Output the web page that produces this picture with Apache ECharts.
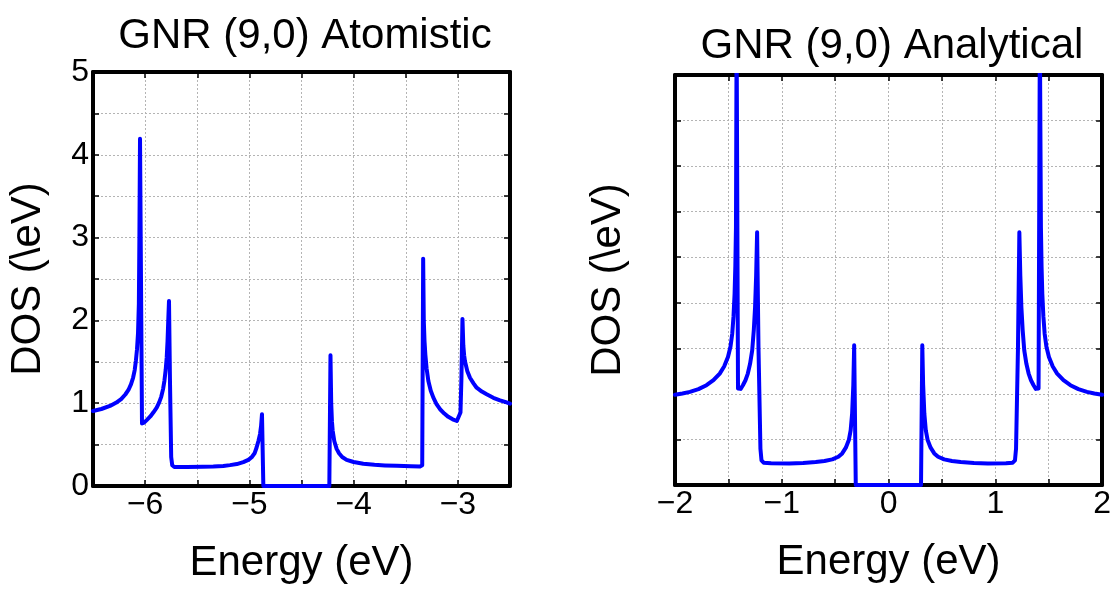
<!DOCTYPE html>
<html>
<head>
<meta charset="utf-8">
<script src="https://cdn.jsdelivr.net/npm/echarts@6/dist/echarts.min.js"></script>
<style>
html,body{margin:0;padding:0;background:#fff;}
#c{width:1114px;height:589px;}
</style>
</head>
<body>
<div id="c"></div>
<script>
// ---- data ----
var titles = ['GNR (9,0) Atomistic', 'GNR (9,0) Analytical'];
var xName = 'Energy (eV)';
var yName = 'DOS (\\eV)';

var atomE = [-6.500,-6.420,-6.337,-6.280,-6.230,-6.190,-6.160,-6.135,-6.115,-6.100,-6.088,-6.078,-6.068,-6.060,-6.055,-6.049,
  -6.030,-6.010,-5.985,-5.950,-5.920,-5.889,-5.865,-5.845,-5.828,-5.815,-5.803,-5.793,-5.785,-5.778,-5.771,
  -5.762,-5.750,-5.740,-5.720,-5.600,-5.450,-5.346,-5.250,-5.186,-5.120,-5.058,-5.010,-4.978,-4.950,-4.930,-4.912,-4.898,-4.888,-4.879,
  -4.866,-4.233,-4.222,-4.215,-4.208,-4.201,-4.185,-4.163,-4.140,-4.110,-4.067,-4.000,-3.907,-3.800,-3.700,-3.587,-3.450,-3.363,-3.342,
  -3.333,-3.327,-3.320,-3.312,-3.300,-3.283,-3.260,-3.235,-3.205,-3.171,-3.130,-3.092,-3.050,-3.010,-2.996,-2.975,-2.966,-2.956,
  -2.948,-2.940,-2.932,-2.910,-2.884,-2.850,-2.820,-2.770,-2.724,-2.660,-2.596,-2.540,-2.500];
var atomDOS = [0.905,0.930,0.967,1.005,1.050,1.105,1.160,1.230,1.310,1.400,1.520,1.650,1.850,2.200,3.000,4.193,
  0.755,0.765,0.795,0.840,0.890,0.947,1.010,1.080,1.170,1.270,1.400,1.550,1.750,2.000,2.234,
  1.300,0.350,0.250,0.230,0.230,0.233,0.236,0.242,0.252,0.265,0.288,0.315,0.348,0.395,0.468,0.550,0.627,0.720,0.867,
  0.000,0.000,1.579,1.000,0.780,0.667,0.540,0.448,0.395,0.350,0.316,0.290,0.268,0.256,0.249,0.244,0.239,0.236,0.250,
  2.746,2.000,1.750,1.587,1.420,1.267,1.150,1.067,0.990,0.927,0.875,0.835,0.805,0.785,0.779,0.887,1.300,2.018,
  1.700,1.580,1.507,1.390,1.307,1.240,1.187,1.140,1.107,1.065,1.035,1.012,0.995];

var analE = [-2.000,-1.930,-1.860,-1.780,-1.705,-1.640,-1.581,-1.540,-1.504,-1.480,-1.464,-1.452,-1.442,-1.435,-1.429,-1.423,
  -1.410,-1.398,-1.385,-1.364,-1.340,-1.318,-1.297,-1.277,-1.262,-1.250,-1.240,-1.231,
  -1.218,-1.200,-1.190,-1.170,-1.100,-0.930,-0.800,-0.682,-0.600,-0.527,-0.470,-0.434,-0.400,-0.372,-0.355,-0.341,-0.330,-0.322,
  -0.307,0.304,
  0.316,0.324,0.335,0.349,0.366,0.394,0.428,0.464,0.521,0.594,0.676,0.800,0.930,1.100,1.163,1.184,1.194,1.212,
  1.225,1.234,1.244,1.256,1.271,1.291,1.312,1.334,1.358,1.379,1.395,1.405,
  1.417,1.427,1.433,1.440,1.450,1.462,1.478,1.502,1.538,1.579,1.638,1.703,1.778,1.858,1.928,2.000];
var analDOS = [0.990,1.005,1.022,1.052,1.095,1.150,1.223,1.300,1.405,1.520,1.661,1.850,2.099,2.400,2.829,5.000,
  1.060,1.040,1.055,1.095,1.150,1.223,1.330,1.478,1.700,1.953,2.300,2.774,
  1.500,0.400,0.270,0.245,0.240,0.237,0.242,0.252,0.263,0.281,0.310,0.347,0.410,0.493,0.600,0.785,1.100,1.533,
  0.000,0.000,
  1.533,1.100,0.785,0.600,0.493,0.410,0.347,0.310,0.281,0.263,0.252,0.242,0.237,0.240,0.245,0.270,0.400,1.500,
  2.774,2.300,1.953,1.700,1.478,1.330,1.223,1.150,1.095,1.055,1.040,1.060,
  5.000,2.829,2.400,2.099,1.850,1.661,1.520,1.405,1.300,1.223,1.150,1.095,1.052,1.022,1.005,0.990];

var atomXTicks = {min: -6.5, max: -2.5, step: 0.5};
var analXTicks = {min: -2, max: 2, step: 0.5};
var atomYTicks = {min: 0, max: 5, step: 0.5};
var analYTicks = {min: 0, max: 4.5, step: 0.5};

// ---- build ----
function zip(a, b) { var r = []; for (var i = 0; i < a.length; i++) r.push([a[i], b[i]]); return r; }
var FONT = '"Liberation Sans", Arial, sans-serif';
function intLabel(v) {
  if (Math.abs(v - Math.round(v)) > 1e-6) return '';
  return String(Math.round(v)).replace('-', '\u2212');
}
var frame = {show: true, onZero: false, lineStyle: {color: '#000', width: 4}};
var tick = {show: true, inside: true, length: 6, lineStyle: {color: '#000', width: 1.5}};
var split = {show: true, lineStyle: {color: '#b4b4b4', width: 1, type: [2, 2]}};

function xAxes(gi, t, gap) {
  return [
    {gridIndex: gi, type: 'value', min: t.min, max: t.max, interval: t.step, position: 'bottom',
     name: xName, nameLocation: 'middle', nameGap: gap,
     nameTextStyle: {fontFamily: FONT, fontSize: 42, color: '#000'},
     axisLine: frame, axisTick: tick, splitLine: split,
     axisLabel: {show: true, formatter: intLabel, fontFamily: FONT, fontSize: 32, color: '#000', margin: 3, showMinLabel: true, showMaxLabel: true}},
    {gridIndex: gi, type: 'value', min: t.min, max: t.max, interval: t.step, position: 'top',
     axisLine: frame, axisTick: tick, splitLine: {show: false}, axisLabel: {show: false}}
  ];
}
function yAxes(gi, t, gap, showLabels) {
  return [
    {gridIndex: gi, type: 'value', min: t.min, max: t.max, interval: t.step, position: 'left',
     name: yName, nameLocation: 'middle', nameGap: gap,
     nameTextStyle: {fontFamily: FONT, fontSize: 42, color: '#000'},
     axisLine: frame, axisTick: tick, splitLine: split,
     axisLabel: {show: showLabels, formatter: intLabel, fontFamily: FONT, fontSize: 32, color: '#000', margin: 4, showMinLabel: true, showMaxLabel: true}},
    {gridIndex: gi, type: 'value', min: t.min, max: t.max, interval: t.step, position: 'right',
     axisLine: frame, axisTick: tick, splitLine: {show: false}, axisLabel: {show: false}}
  ];
}

var chart = echarts.init(document.getElementById('c'), null, {renderer: 'canvas'});
chart.setOption({
  backgroundColor: '#ffffff',
  animation: false,
  title: [
    {text: titles[0], left: 300, top: 10, textAlign: 'center',
     textStyle: {fontFamily: FONT, fontSize: 42, fontWeight: 'normal', color: '#000', lineHeight: 42}},
    {text: titles[1], left: 887, top: 20, textAlign: 'center',
     textStyle: {fontFamily: FONT, fontSize: 42, fontWeight: 'normal', color: '#000', lineHeight: 42}}
  ],
  grid: [
    {left: 93, top: 72, width: 417, height: 417, containLabel: false},
    {left: 675, top: 75, width: 430, height: 410, containLabel: false}
  ],
  xAxis: xAxes(0, atomXTicks, 56).concat(xAxes(1, analXTicks, 56)),
  yAxis: yAxes(0, atomYTicks, 44, true).concat(yAxes(1, analYTicks, 46, false)),
  series: [
    {type: 'line', xAxisIndex: 0, yAxisIndex: 0, data: zip(atomE, atomDOS), showSymbol: false,
     symbol: 'none', clip: true, lineStyle: {color: '#0000ff', width: 4, join: 'round', cap: 'round'}, z: 5},
    {type: 'line', xAxisIndex: 2, yAxisIndex: 2, data: zip(analE, analDOS), showSymbol: false,
     symbol: 'none', clip: true, lineStyle: {color: '#0000ff', width: 4, join: 'round', cap: 'round'}, z: 5}
  ]
});
</script>
</body>
</html>
